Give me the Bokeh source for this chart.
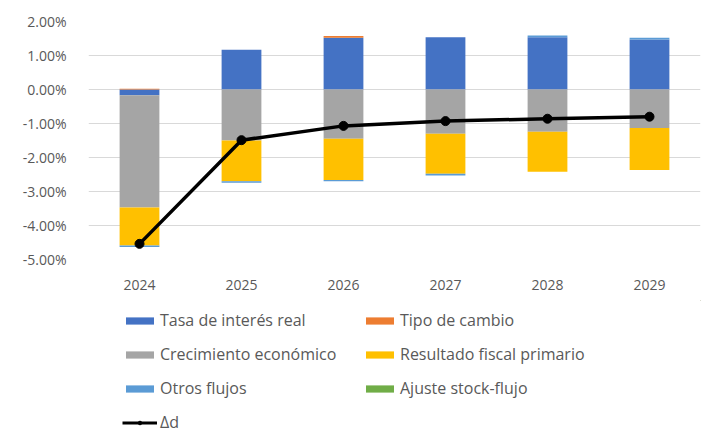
from bokeh.plotting import figure
from bokeh.layouts import column
from bokeh.models import Legend, LegendItem, PrintfTickFormatter, FixedTicker, ColumnDataSource
from bokeh.embed import file_html
from bokeh.resources import INLINE

# Contributions to the change in debt (percentage points of GDP)
years = ["2024", "2025", "2026", "2027", "2028", "2029"]
tasa_interes = [-0.17, 1.17, 1.52, 1.54, 1.54, 1.47]
tipo_cambio = [0.02, 0.00, 0.05, 0.00, 0.00, 0.00]
crecimiento = [-3.30, -1.50, -1.45, -1.30, -1.24, -1.13]
resultado_fiscal = [-1.12, -1.20, -1.21, -1.18, -1.18, -1.24]
otros_flujos = [-0.04, -0.04, -0.04, -0.05, 0.05, 0.05]
ajuste_stock = [0.00, 0.00, 0.00, 0.00, 0.00, 0.00]
delta_d = [-4.54, -1.49, -1.07, -0.93, -0.86, -0.80]

series = [
    ("Tasa de interés real", tasa_interes, "#4472C4"),
    ("Tipo de cambio", tipo_cambio, "#ED7D31"),
    ("Crecimiento económico", crecimiento, "#A5A5A5"),
    ("Resultado fiscal primario", resultado_fiscal, "#FFC000"),
    ("Otros flujos", otros_flujos, "#5B9BD5"),
    ("Ajuste stock-flujo", ajuste_stock, "#70AD47"),
]

FONT = "Open Sans"
TEXT = "#595959"

# ---- chart ----
p = figure(
    x_range=years, y_range=(-5, 2), frame_width=612, frame_height=238,
    output_backend="svg", toolbar_location=None,
    min_border_left=88, min_border_right=10, min_border_top=21, min_border_bottom=41,
)
p.outline_line_color = None

# Stack positive and negative parts separately, like a spreadsheet stacked column
pos_base = [0.0] * len(years)
neg_base = [0.0] * len(years)
for name, vals, color in series:
    bottoms, tops = [], []
    for i, v in enumerate(vals):
        if v >= 0:
            bottoms.append(pos_base[i]); tops.append(pos_base[i] + v); pos_base[i] += v
        else:
            bottoms.append(neg_base[i]); tops.append(neg_base[i] + v); neg_base[i] += v
    src = ColumnDataSource(dict(x=years, bottom=bottoms, top=tops))
    p.vbar(x="x", bottom="bottom", top="top", width=0.39, source=src,
           fill_color=color, line_color=None)

p.line(years, delta_d, line_color="black", line_width=3.5)
p.scatter(years, delta_d, size=9, fill_color="black", line_color="black")

p.yaxis.ticker = FixedTicker(ticks=[-5, -4, -3, -2, -1, 0, 1, 2])
p.yaxis.formatter = PrintfTickFormatter(format="%.2f%%")
for ax in (p.xaxis[0], p.yaxis[0]):
    ax.axis_line_color = None
    ax.major_tick_line_color = None
    ax.minor_tick_line_color = None
    ax.major_label_text_font = FONT
    ax.major_label_text_font_size = "14px"
    ax.major_label_text_color = TEXT
p.yaxis.major_label_standoff = 16
p.xaxis.major_label_standoff = 14
p.xgrid.grid_line_color = None
p.ygrid.grid_line_color = "#D9D9D9"
p.ygrid.grid_line_width = 1.2

# ---- legend strip under the chart ----
leg = figure(width=710, height=133, x_range=(0, 1), y_range=(0, 1),
             output_backend="svg", toolbar_location=None,
             x_axis_type=None, y_axis_type=None, min_border=0)
leg.outline_line_color = None
leg.grid.grid_line_color = None

# legend swatches: same styling as the chart glyphs, drawn out of view
items = []
for name, vals, color in series:
    r = leg.vbar(x=[5], bottom=[5], top=[6], width=0.5, fill_color=color, line_color=None)
    items.append(LegendItem(label=name, renderers=[r]))
lr = leg.line([5, 6], [5, 6], line_color="black", line_width=3)
sr = leg.scatter([5.5], [5.5], size=8, fill_color="black", line_color="black")
items.append(LegendItem(label="Δd", renderers=[lr, sr]))

legend = Legend(items=items, orientation="horizontal", ncols=2,
                location=(34, 0), margin=0, padding=0,
                glyph_width=35, glyph_height=9, label_standoff=3,
                spacing=12, label_height=16, label_width=190,
                label_text_font=FONT, label_text_font_size="16px",
                label_text_color=TEXT, border_line_color=None,
                background_fill_alpha=0)
leg.add_layout(legend, "center")

layout = column(p, leg, spacing=0)
open("out.html", "w").write(file_html(layout, INLINE))
